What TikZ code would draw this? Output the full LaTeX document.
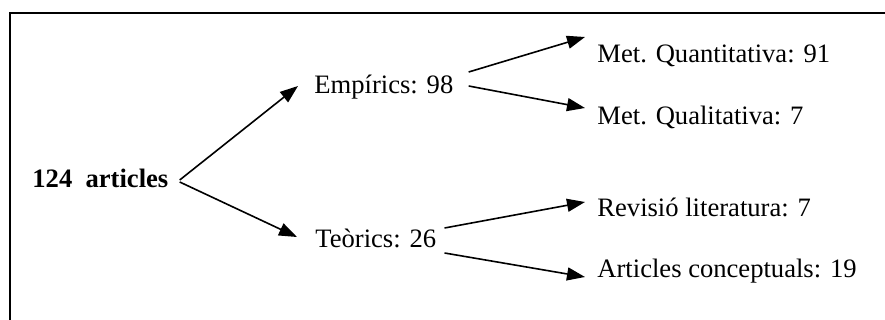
\documentclass[tikz,border=0pt]{standalone}
\usepackage{fontspec}
\setmainfont{Liberation Serif}
\usetikzlibrary{arrows.meta,calc}

\begin{document}
\begin{tikzpicture}[x=0.5pt,y=-0.5pt,>={Triangle[length=9pt,width=6.5pt]},
		every node/.style={inner sep=0pt,anchor=base west,font=\fontsize{13.3}{16}\selectfont}]
			\useasboundingbox (0,0) rectangle (885,320);
			% frame
			\draw[line width=1pt] (10,320) -- (10,13) -- (885,13);
			\node (art) at (32,188) {\textbf{124~~articles}};
			\node (emp) at (314,94) {Empírics: 98};
			\node (teo) at (315,248) {Teòrics: 26};
			\node (mqn) at (597,63) {Met. Quantitativa: 91};
			\node (mql) at (597,125) {Met. Qualitativa: 7};
			\node (rev) at (597,217) {Revisió literatura: 7};
			\node (con) at (597,278) {Articles conceptuals: 19};
			\path[->,line width=0.8pt]
				($(art.base east)+(11,-8)$) edge ($(emp.base west)+(-16,-8)$)
				($(art.base east)+(11,-6)$) edge ($(teo.base west)+(-18,-11)$)
				($(emp.base east)+(15,-22)$) edge ($(mqn.base west)+(-12,-26)$)
				($(emp.base east)+(15,-8)$) edge ($(mql.base west)+(-12,-17)$)
				($(teo.base east)+(8,-20)$) edge ($(rev.base west)+(-12,-15)$)
				($(teo.base east)+(8,5)$) edge ($(con.base west)+(-12,-1)$);
		\end{tikzpicture}
\end{document}
